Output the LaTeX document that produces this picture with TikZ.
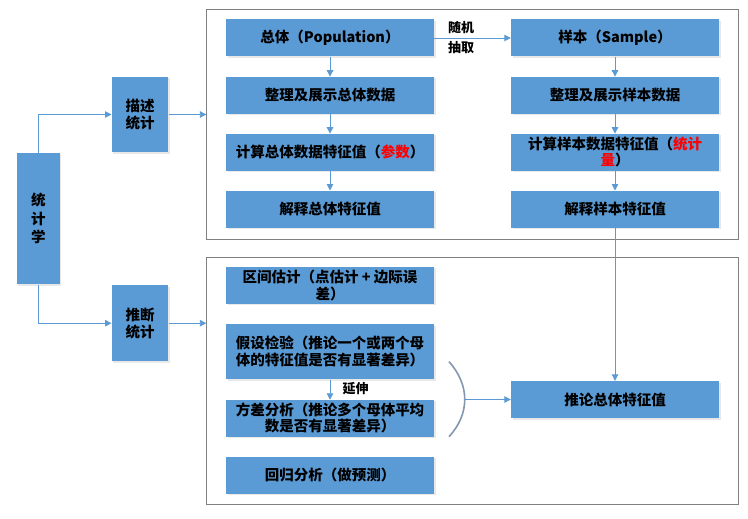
\documentclass[tikz,border=0pt]{standalone}
\usepackage{fontspec}
\newfontfamily\cjk{Noto Sans CJK SC}
\usetikzlibrary{arrows.meta,shadows}
\definecolor{boxblue}{HTML}{5B9BD5}
\definecolor{lineblue}{HTML}{5B9BD5}
\definecolor{framegray}{HTML}{808080}
\definecolor{brkcol}{HTML}{8497B0}
\tikzset{
  box/.style={fill=boxblue, draw=none, minimum width=208pt, minimum height=37pt,
    inner sep=1pt, align=center, font=\cjk\bfseries\fontsize{14.5}{17}\selectfont,
    drop shadow={opacity=0.18, shadow xshift=1.5pt, shadow yshift=-1.5pt}},
  sidebox/.style={box, minimum width=56.6pt, minimum height=75.6pt, font=\cjk\bfseries\fontsize{14.5}{17}\selectfont},
  framebox/.style={draw=framegray, line width=0.8pt, fill=none, inner sep=0pt},
  conn/.style={draw=lineblue, line width=0.9pt, -{Triangle[width=6.5pt,length=6.5pt]}},
  lbl/.style={font=\cjk\bfseries\fontsize{13}{20}\selectfont, inner sep=0pt, align=left}
}
\begin{document}
\begin{tikzpicture}[x=1pt,y=-1pt]
\path[use as bounding box, fill=white] (0,0) rectangle (748,519);
% frames
\node[framebox, minimum width=531.6pt, minimum height=230pt] (f1) at (472.5,124.3) {};
\node[framebox, minimum width=531.6pt, minimum height=247pt] (f2) at (472.5,380.8) {};
% left nodes
\node[sidebox, minimum width=43.3pt, minimum height=131.6pt, font=\cjk\bfseries\fontsize{14.5}{18.5}\selectfont] (tj) at (38.3,218.5) {统\\计\\学};
\node[sidebox] (ms) at (140,114.5) {描述\\统计};
\node[sidebox] (td) at (140,323.2) {推断\\统计};
% descriptive
\node[box] (p1) at (330,38) {总体（Population）};
\node[box] (p2) at (330,95.3) {整理及展示总体数据};
\node[box] (p3) at (330,152.3) {计算总体数据特征值（{\color{red}参数}）};
\node[box] (p4) at (330,209.2) {解释总体特征值};
\node[box] (s1) at (615,38) {样本（Sample）};
\node[box] (s2) at (615,95.3) {整理及展示样本数据};
\node[box, font=\cjk\bfseries\fontsize{14.5}{16}\selectfont] (s3) at (615,152.3) {计算样本数据特征值（{\color{red}统计}\\{\color{red}量}）};
\node[box] (s4) at (615,209.2) {解释样本特征值};
% inferential
\node[box] (i1) at (330,285.3) {区间估计（点估计 + 边际误\\差）};
\node[box, minimum height=55.3pt] (i2) at (330,351.7) {假设检验（推论一个或两个母\\体的特征值是否有显著差异）};
\node[box, minimum height=36.7pt, font=\cjk\bfseries\fontsize{14.5}{16}\selectfont] (i3) at (330,418.3) {方差分析（推论多个母体平均\\数是否有显著差异）};
\node[box] (i4) at (330,475.3) {回归分析（做预测）};
\node[box] (inf) at (615,399.5) {推论总体特征值};
% labels
\node[lbl] (rl) at (461,38) {随机\\抽取};
\node[lbl] (yl) at (355.5,388.3) {延伸};
% bracket
\coordinate (b1) at (449,361.7);
\coordinate (b2) at (449,436.7);
\coordinate (brk) at (464.7,399.5);
\draw[brkcol, line width=1.6pt] (b1) .. controls (470,385) and (470,414) .. (b2);
% connectors
\draw[conn] (tj.north) |- (ms.west);
\draw[conn] (tj.south) |- (td.west);
\draw[conn] (ms.east) -- (ms.east -| f1.west);
\draw[conn] (td.east) -- (td.east -| f2.west);
\draw[conn] (p1) -- (p2);
\draw[conn] (p2) -- (p3);
\draw[conn] (p3) -- (p4);
\draw[conn] (s1) -- (s2);
\draw[conn] (s2) -- (s3);
\draw[conn] (s3) -- (s4);
\draw[conn] (p1) -- (s1);
\draw[conn] (s4) -- (inf);
\draw[conn] (i2) -- (i3);
\draw[conn] (brk) -- (inf.west);
\end{tikzpicture}
\end{document}
